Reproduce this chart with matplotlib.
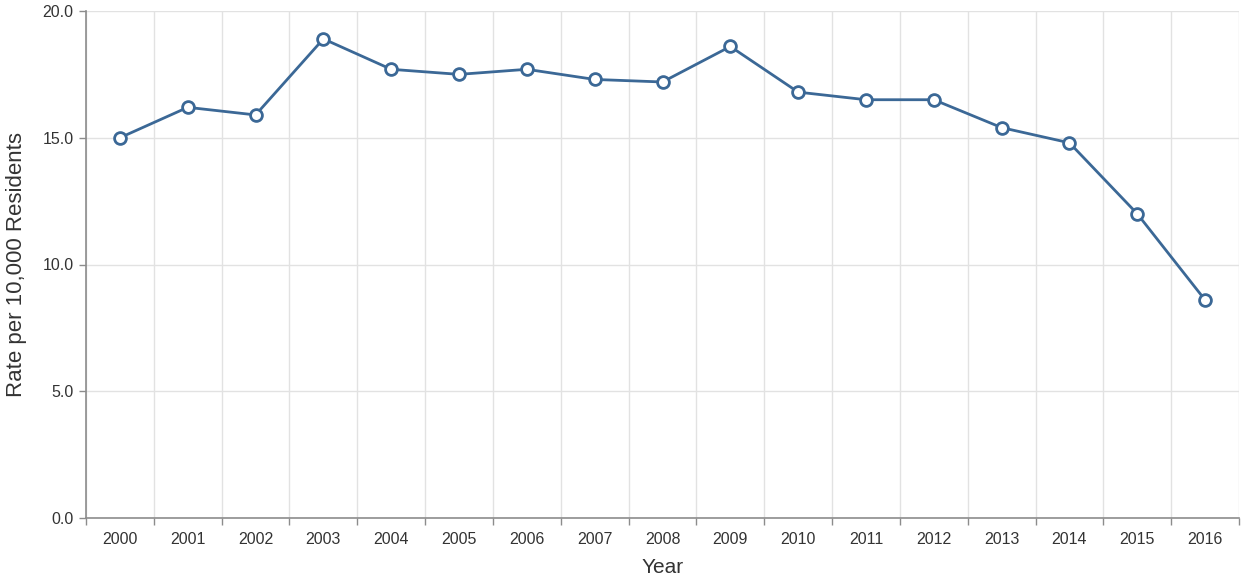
import matplotlib
matplotlib.use("Agg")
import matplotlib.pyplot as plt
import numpy as np

plt.rcParams['font.family'] = ['Liberation Sans', 'DejaVu Sans']

years = ['2000', '2001', '2002', '2003', '2004', '2005', '2006', '2007', '2008',
         '2009', '2010', '2011', '2012', '2013', '2014', '2015', '2016']
rates = [15.0, 16.2, 15.9, 18.9, 17.7, 17.5, 17.7, 17.3, 17.2,
         18.6, 16.8, 16.5, 16.5, 15.4, 14.8, 12.0, 8.6]
y_ticks = [0, 5, 10, 15, 20]

line_col = '#3b6896'
grid_col = '#e2e2e2'
axis_col = '#8c8c8c'
text_col = '#333333'

fig = plt.figure(figsize=(12.49, 5.79), dpi=100)
ax = fig.add_axes([86/1249, 1 - 518/579, (1239 - 86)/1249, (518 - 11)/579])

x = np.arange(len(years))
ax.plot(x, rates, color=line_col, linewidth=2, marker='o', markersize=8.5,
        markerfacecolor='white', markeredgecolor=line_col, markeredgewidth=2,
        zorder=3, clip_on=False)

ax.set_xlim(-0.5, len(years) - 0.5)
ax.set_ylim(0, 20)

# band boundaries as minor ticks -> vertical grid + tick marks
bounds = np.arange(len(years) + 1) - 0.5
ax.set_xticks(x)
ax.set_xticklabels(years)
ax.set_xticks(bounds, minor=True)
ax.tick_params(axis='x', which='major', length=0, pad=10, labelsize=11.5, labelcolor=text_col)
ax.tick_params(axis='x', which='minor', length=5, color=axis_col, width=1)
ax.grid(True, axis='x', which='minor', color=grid_col, linewidth=1)

ax.set_yticks(y_ticks)
ax.set_yticklabels(['%.1f' % v for v in y_ticks])
ax.tick_params(axis='y', length=5, color=axis_col, width=1, labelsize=11.5, labelcolor=text_col, pad=4)
ax.grid(True, axis='y', which='major', color=grid_col, linewidth=1)
ax.set_axisbelow(True)

for s in ['top', 'right']:
    ax.spines[s].set_visible(False)
for s in ['left', 'bottom']:
    ax.spines[s].set_color(axis_col)
    ax.spines[s].set_linewidth(1.2)

ax.set_xlabel('Year', fontsize=15, color=text_col, labelpad=8)
ax.set_ylabel('Rate per 10,000 Residents', fontsize=16, color=text_col, labelpad=11)

fig.savefig('out.png', dpi=100)
